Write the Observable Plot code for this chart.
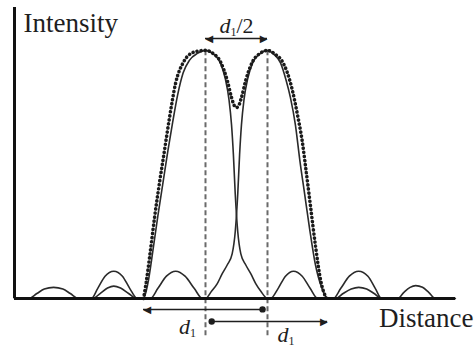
<!DOCTYPE html>
<html>
<head>
<meta charset="utf-8">
<script src="https://cdn.jsdelivr.net/npm/d3@7"></script>
<script src="https://cdn.jsdelivr.net/npm/@observablehq/plot@0.6"></script>
<style>
  html, body { margin: 0; padding: 0; background: #fff; }
</style>
</head>
<body>
<div id="chart"></div>
<script>
// Distance in units of the peak separation d1/2 (left peak at 0, right peak at 1); intensity normalised to the peak.
const leftU = [-3.08, -2.85, -2.72, -2.6, -2.45, -2.3, -2.18, -2.05, -1.84, -1.74, -1.62, -1.48, -1.34, -1.22, -1.1, -1.0,
  -0.93, -0.85, -0.77, -0.69, -0.61, -0.53, -0.45, -0.36, -0.26, -0.13, 0,
  0.13, 0.24, 0.32, 0.38, 0.42, 0.45, 0.48, 0.52, 0.57, 0.65, 0.73, 0.81, 0.89, 1.0,
  1.05, 1.17, 1.29, 1.42, 1.56, 1.69, 1.81, 2.1, 2.22, 2.35, 2.47, 2.6, 2.72, 2.84, 4.03];
const leftI = [0, 0, 0.02, 0.038, 0.045, 0.038, 0.02, 0, 0, 0.04, 0.09, 0.11, 0.09, 0.04, 0, 0,
  0.06, 0.19, 0.33, 0.46, 0.59, 0.71, 0.82, 0.91, 0.96, 0.988, 1,
  0.985, 0.95, 0.885, 0.8, 0.7, 0.58, 0.42, 0.27, 0.18, 0.135, 0.1, 0.06, 0.03, 0,
  0, 0.04, 0.09, 0.11, 0.09, 0.04, 0, 0, 0.02, 0.038, 0.045, 0.038, 0.02, 0, 0];

const rightU = [-3.08, -1.82, -1.7, -1.58, -1.48, -1.37, -1.24, -1.11, -0.89, -0.77, -0.63, -0.48, -0.33, -0.18, -0.05,
  0, 0.1, 0.19, 0.27, 0.35, 0.43, 0.48, 0.52, 0.55, 0.58, 0.62, 0.68, 0.76, 0.87, 1.0,
  1.1, 1.21, 1.3, 1.37, 1.45, 1.52, 1.6, 1.68, 1.77, 1.88, 1.97,
  2.06, 2.18, 2.32, 2.47, 2.62, 2.74, 2.84, 3.1, 3.2, 3.3, 3.39, 3.5, 3.6, 3.71, 4.03];
const rightI = [0, 0, 0.02, 0.042, 0.05, 0.042, 0.02, 0, 0, 0.04, 0.09, 0.11, 0.09, 0.04, 0,
  0, 0.03, 0.06, 0.1, 0.135, 0.18, 0.27, 0.42, 0.58, 0.7, 0.8, 0.885, 0.95, 0.985, 1,
  0.985, 0.95, 0.88, 0.81, 0.7, 0.56, 0.42, 0.28, 0.14, 0.04, 0,
  0, 0.04, 0.09, 0.11, 0.09, 0.04, 0, 0, 0.025, 0.045, 0.052, 0.045, 0.025, 0, 0];

const sumU = [-1.0, -0.96, -0.89, -0.82, -0.74, -0.66, -0.58, -0.48, -0.35, -0.22, -0.1, 0,
  0.12, 0.24, 0.35, 0.42, 0.47, 0.5, 0.53, 0.58, 0.65, 0.76, 0.88, 1.0,
  1.12, 1.24, 1.32, 1.4, 1.48, 1.56, 1.62, 1.69, 1.77, 1.86, 1.95];
const sumI = [0, 0.06, 0.19, 0.33, 0.47, 0.6, 0.73, 0.87, 0.955, 0.99, 0.998, 1.0,
  0.988, 0.955, 0.88, 0.81, 0.775, 0.77, 0.775, 0.81, 0.88, 0.955, 0.988, 1.0,
  0.985, 0.955, 0.91, 0.84, 0.745, 0.635, 0.52, 0.38, 0.22, 0.07, 0];

const peakU = [0, 1];
const axisLabels = ["Intensity", "Distance"];

const leftCurve = leftU.map((u, i) => ({u, I: leftI[i]}));
const rightCurve = rightU.map((u, i) => ({u, I: rightI[i]}));
const sumCurve = sumU.map((u, i) => ({u, I: sumI[i]}));

// Measurement arrows (from, to, level) with their labels
const arrows = [
  {x1: 0, x2: 1, y: 1.048, start: "tri", end: "tri"},
  {x1: -1.0, x2: 0.92, y: -0.044, start: "tri", end: "dot"},
  {x1: 0.1, x2: 1.97, y: -0.093, start: "dot", end: "tri"}
];
const dLabels = [
  {x: 0.5, y: 1.10, text: "d1/2", anchor: "middle"},
  {x: -0.29, y: -0.115, text: "d1", anchor: "start"},
  {x: 1.30, y: -0.145, text: "d1", anchor: "start"}
];

const x0 = -3.0806, x1 = 4.0323;
const ink = "#1e1e1e";

const triStart = arrows.filter(a => a.start === "tri").map(a => ({x: a.x1, y: a.y}));
const triEnd = arrows.filter(a => a.end === "tri").map(a => ({x: a.x2, y: a.y}));
const dotsAt = [
  ...arrows.filter(a => a.start === "dot").map(a => ({x: a.x1, y: a.y})),
  ...arrows.filter(a => a.end === "dot").map(a => ({x: a.x2, y: a.y}))
];

const chart = Plot.plot({
  width: 474,
  height: 347,
  marginLeft: 14,
  marginRight: 19,
  marginTop: 7,
  marginBottom: 49,
  x: {domain: [x0, x1], axis: null},
  y: {domain: [0, 1.173], axis: null},
  style: {background: "#fff", fontFamily: "'Liberation Serif', 'Times New Roman', serif", color: ink},
  marks: [
    Plot.ruleX(peakU, {y1: -0.15, y2: 1.0, stroke: "#6a6a6a", strokeWidth: 2, strokeDasharray: "5,3"}),
    Plot.line(leftCurve, {x: "u", y: "I", curve: "monotone-x", stroke: "#2a2a2a", strokeWidth: 1.6}),
    Plot.line(rightCurve, {x: "u", y: "I", curve: "monotone-x", stroke: "#2a2a2a", strokeWidth: 1.6}),
    Plot.line(sumCurve, {x: "u", y: "I", curve: "monotone-x", stroke: "#1a1a1a", strokeWidth: 3.6, strokeDasharray: "0.1,4", strokeLinecap: "round"}),
    Plot.ruleX([x0], {stroke: "#111", strokeWidth: 3}),
    Plot.ruleY([0], {stroke: "#111", strokeWidth: 3}),
    Plot.ruleY(arrows, {y: "y", x1: "x1", x2: "x2", stroke: ink, strokeWidth: 1.5}),
    Plot.text(triStart, {x: "x", y: "y", text: () => "\u25C0", textAnchor: "start", fontSize: 10, fill: ink, fontFamily: "DejaVu Sans"}),
    Plot.text(triEnd, {x: "x", y: "y", text: () => "\u25B6", textAnchor: "end", fontSize: 10, fill: ink, fontFamily: "DejaVu Sans"}),
    Plot.dot(dotsAt, {x: "x", y: "y", r: 3.2, fill: ink, stroke: null}),
    Plot.text(dLabels, {x: "x", y: "y", text: "text", textAnchor: "anchor", lineAnchor: "middle", fontSize: 22, fill: ink}),
    Plot.text([axisLabels[0]], {frameAnchor: "top-left", dx: 9, dy: 5, textAnchor: "start", lineAnchor: "top", fontSize: 27, fill: ink}),
    Plot.text([axisLabels[1]], {frameAnchor: "bottom-right", dx: 18, dy: 9, textAnchor: "end", lineAnchor: "top", fontSize: 27, fill: ink})
  ]
});

// Turn "d1" / "d1/2" into italic d with subscript 1
const NS = "http://www.w3.org/2000/svg";
chart.querySelectorAll("text").forEach(t => {
  const s = t.textContent;
  if (s === "d1" || s === "d1/2") {
    while (t.firstChild) t.removeChild(t.firstChild);
    const d = document.createElementNS(NS, "tspan");
    d.setAttribute("font-style", "italic");
    d.textContent = "d";
    const sub = document.createElementNS(NS, "tspan");
    sub.setAttribute("font-size", "12");
    sub.setAttribute("dy", "3");
    sub.textContent = "1";
    t.appendChild(d);
    t.appendChild(sub);
    if (s === "d1/2") {
      const rest = document.createElementNS(NS, "tspan");
      rest.setAttribute("dy", "-3");
      rest.textContent = "/2";
      t.appendChild(rest);
    }
  }
});

document.getElementById("chart").appendChild(chart);
</script>
</body>
</html>
